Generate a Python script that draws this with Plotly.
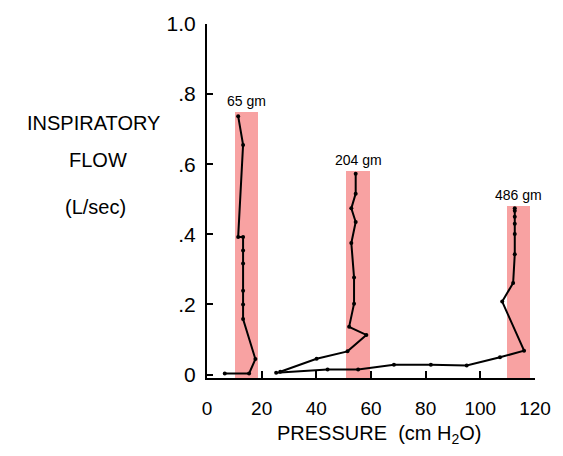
import plotly.graph_objects as go

# ---- data ----
bar_labels = ["65 gm", "204 gm", "486 gm"]
bar_centers = [14.45, 55.25, 113.85]
bar_widths = [8.5, 8.5, 8.5]
bar_tops = [0.75, 0.58, 0.48]

p65 = [6.5, 15.4, 17.7, 13.2, 13.2, 13.2, 13.2, 13.2, 13.2, 11.4, 13.2, 11.4]
f65 = [0.003, 0.003, 0.044, 0.158, 0.20, 0.239, 0.317, 0.354, 0.392, 0.392, 0.655, 0.737]

p204 = [26.8, 40.1, 51.4, 58.3, 52.0, 53.8, 53.8, 52.8, 54.4, 52.8, 54.4, 54.4]
f204 = [0.008, 0.045, 0.066, 0.113, 0.136, 0.202, 0.277, 0.375, 0.435, 0.474, 0.516, 0.573]

p486 = [25.3, 44.1, 55.3, 68.4, 81.9, 95.0, 107.2, 116.0, 108.0, 112.0, 112.6, 112.6, 112.6, 112.6, 112.6, 112.6]
f486 = [0.005, 0.014, 0.014, 0.028, 0.028, 0.026, 0.049, 0.068, 0.208, 0.261, 0.343, 0.401, 0.43, 0.45, 0.467, 0.474]

x_ticks = [0, 20, 40, 60, 80, 100, 120]
y_ticks = [0, 0.2, 0.4, 0.6, 0.8, 1.0]
y_tick_text = ["0", ".2", ".4", ".6", ".8", "1.0"]

Y_MIN = -0.01
FONT = "Liberation Sans"
PINK = "#F8A2A2"

fig = go.Figure()
fig.add_trace(go.Bar(x=bar_centers, y=[t - Y_MIN for t in bar_tops], base=Y_MIN,
                     width=bar_widths, marker=dict(color=PINK, line=dict(width=0)),
                     hoverinfo="skip"))
for px, fy in [(p65, f65), (p204, f204), (p486, f486)]:
    fig.add_trace(go.Scatter(x=px, y=fy, mode="lines+markers",
                             line=dict(color="black", width=2),
                             marker=dict(color="black", size=4)))

for lab, c, t in zip(bar_labels, bar_centers, bar_tops):
    fig.add_annotation(x=c, y=t, xref="x", yref="y", text=lab, showarrow=False,
                       yanchor="bottom", yshift=1, font=dict(family=FONT, size=14, color="black"))

ytitle = [("INSPIRATORY", -0.345, 0.721), ("FLOW", -0.333, 0.617), ("(L/sec)", -0.339, 0.483)]
for txt, xp, yp in ytitle:
    fig.add_annotation(x=xp, y=yp, xref="paper", yref="paper", text=txt, showarrow=False,
                       xanchor="center", yanchor="middle",
                       font=dict(family=FONT, size=20, color="black"))

fig.add_annotation(x=0.524, y=-0.159, xref="paper", yref="paper",
                   text="PRESSURE  (cm H<sub>2</sub>O)", showarrow=False,
                   xanchor="center", yanchor="middle",
                   font=dict(family=FONT, size=20, color="black"))

fig.update_layout(
    width=563, height=456,
    margin=dict(l=207, r=26, t=20, b=78),
    paper_bgcolor="white", plot_bgcolor="white",
    showlegend=False, bargap=0,
    font=dict(family=FONT, color="black"),
)
fig.update_xaxes(range=[0, 120], tickvals=x_ticks, ticks="inside", ticklen=7, tickwidth=2,
                 tickcolor="black", showline=True, linecolor="black", linewidth=2,
                 showgrid=False, zeroline=False, ticklabelstandoff=12,
                 tickfont=dict(family=FONT, size=19, color="black"))
fig.update_yaxes(range=[Y_MIN, 1.0], tickvals=y_ticks, ticktext=y_tick_text, ticks="inside",
                 ticklen=6, tickwidth=2, tickcolor="black", showline=True, linecolor="black",
                 linewidth=2, showgrid=False, zeroline=False, ticklabelstandoff=5,
                 tickfont=dict(family=FONT, size=21, color="black"))

fig.write_html("out.html")
